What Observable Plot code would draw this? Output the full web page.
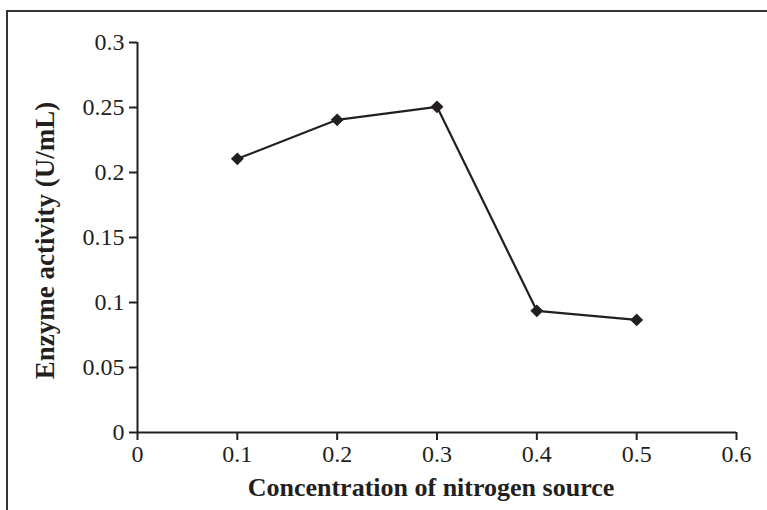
<!DOCTYPE html>
<html>
<head>
<meta charset="utf-8">
<script src="https://cdn.jsdelivr.net/npm/d3@7"></script>
<script src="https://cdn.jsdelivr.net/npm/@observablehq/plot@0.6"></script>
<style>
  html, body { margin: 0; padding: 0; background: #fff; overflow: hidden; }
  #wrap { position: relative; width: 767px; height: 510px; }
  #frame { position: absolute; left: 6px; top: 10px; width: 800px; height: 600px;
           border-left: 2px solid #333; border-top: 2px solid #333; pointer-events: none; }
</style>
</head>
<body>
<div id="wrap"><div id="frame"></div></div>
<script>
const concentration = [0.1, 0.2, 0.3, 0.4, 0.5];
const activity = [0.2105, 0.2405, 0.2505, 0.0936, 0.0866];
const xTicks = [0, 0.1, 0.2, 0.3, 0.4, 0.5, 0.6];
const yTicks = [0, 0.05, 0.1, 0.15, 0.2, 0.25, 0.3];
const xTitle = ["Concentration of nitrogen source"];
const yTitle = ["Enzyme activity (U/mL)"];

const data = concentration.map((c, i) => ({c, a: activity[i]}));
const fmt = d => String(+d.toFixed(2));
const ink = "#231f20";
const serif = "'Liberation Serif', 'Times New Roman', serif";

const chart = Plot.plot({
  width: 767,
  height: 510,
  marginLeft: 137,
  marginRight: 31,
  marginTop: 42,
  marginBottom: 78,
  style: {fontFamily: serif, color: ink, background: "transparent"},
  x: {domain: [0, 0.6]},
  y: {domain: [0, 0.3]},
  marks: [
    Plot.axisX({ticks: xTicks, tickFormat: fmt, tickSize: 8, tickPadding: 4, stroke: ink, strokeWidth: 2,
      fill: ink, fontSize: 24, fontFamily: serif, label: null}),
    Plot.axisY({ticks: yTicks, tickFormat: fmt, tickSize: 8, tickPadding: 5, stroke: ink, strokeWidth: 2,
      fill: ink, fontSize: 24, fontFamily: serif, label: null}),
    Plot.text(xTitle, {frameAnchor: "bottom", dx: -6, dy: 55, lineAnchor: "middle", textAnchor: "middle",
      fontSize: 26, fontWeight: "bold", fontFamily: serif, fill: ink}),
    Plot.text(yTitle, {frameAnchor: "left", rotate: -90, dx: -92, dy: 3, lineAnchor: "middle", textAnchor: "middle",
      fontSize: 27, fontWeight: "bold", fontFamily: serif, fill: ink}),
    Plot.ruleX([0], {stroke: ink, strokeWidth: 2}),
    Plot.ruleY([0], {stroke: ink, strokeWidth: 2}),
    Plot.line(data, {x: "c", y: "a", stroke: ink, strokeWidth: 2.2}),
    Plot.dot(data, {x: "c", y: "a", symbol: "diamond2", r: 5.8, fill: ink, stroke: "none"})
  ]
});
document.getElementById("wrap").prepend(chart);
</script>
</body>
</html>
